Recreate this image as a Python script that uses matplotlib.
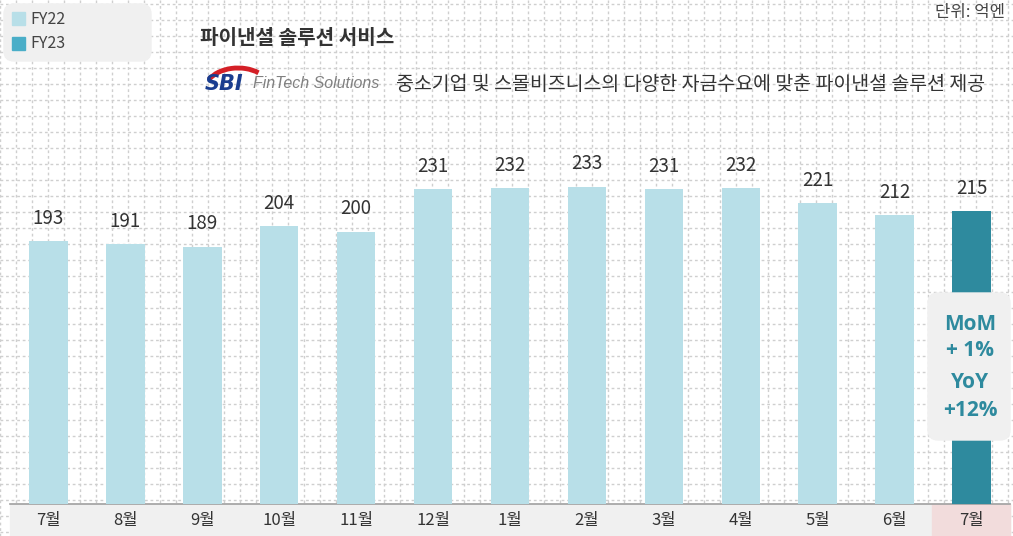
import numpy as np
import matplotlib.pyplot as plt
from matplotlib.patches import FancyBboxPatch, Rectangle, Arc

plt.rcParams['font.family'] = ['Noto Sans CJK KR', 'DejaVu Sans']

# data
months = ['7월', '8월', '9월', '10월', '11월', '12월', '1월', '2월', '3월', '4월', '5월', '6월', '7월']
values = [193, 191, 189, 204, 200, 231, 232, 233, 231, 232, 221, 212, 215]
fiscal = ['FY22'] * 12 + ['FY23']

c22 = '#b8dfe8'
c23 = '#2e8a9e'
c23_legend = '#4aaec8'
W, H = 1013, 536

fig = plt.figure(figsize=(W / 100, H / 100), dpi=100)

# dotted background grid over the whole figure
bg = fig.add_axes([0, 0, 1, 1])
bg.set_xlim(0, W)
bg.set_ylim(H, 0)
bg.axis('off')
for gx in np.arange(0, W, 16):
    bg.axvline(gx, color='#cfcfcf', lw=1, ls=(0, (2, 2)), zorder=0)
for gy in np.arange(4, H, 16):
    bg.axhline(gy, color='#cfcfcf', lw=1, ls=(0, (2, 2)), zorder=0)

# x-axis band
bg.add_patch(Rectangle((10, 504), 1000, 32, color='#f0f0f0', zorder=1))
bg.add_patch(Rectangle((932, 504), 78, 32, color='#f2dcdc', zorder=1))
bg.plot([10, 1010], [504, 504], color='#a0a0a0', lw=1.2, zorder=2)

# bar axes
ax = fig.add_axes([10 / W, (H - 504) / H, 1000 / W, 504 / H])
ax.patch.set_alpha(0)
x = np.arange(len(months))
colors = [c23 if f == 'FY23' else c22 for f in fiscal]
ax.bar(x, values, width=0.5, color=colors, zorder=3)
for xi, v in zip(x, values):
    ax.text(xi, v + 9, str(v), ha='center', va='bottom', fontsize=13.5, color='#333333')
ax.set_xlim(-0.5, len(months) - 0.5)
ax.set_ylim(0, 370)
ax.axis('off')
for xi, m in zip(x, months):
    fig.text((10 + (xi + 0.5) * 1000 / 13) / W, 1 - 521 / H, m, ha='center', va='center',
             fontsize=12, color='#333333', fontweight='medium')

# overlay for boxes and titles
top = fig.add_axes([0, 0, 1, 1])
top.patch.set_alpha(0)
top.set_xlim(0, W)
top.set_ylim(H, 0)
top.axis('off')

# legend box
top.add_patch(FancyBboxPatch((4, 4), 147, 57, boxstyle='round,pad=0,rounding_size=10',
                             color='#f0f0f0', zorder=4))
top.add_patch(Rectangle((12, 12), 13, 13, color=c22, zorder=5))
top.add_patch(Rectangle((12, 37), 13, 13, color=c23_legend, zorder=5))
top.text(30, 19, 'FY22', fontsize=11.5, color='#444444', va='center', zorder=5)
top.text(30, 44, 'FY23', fontsize=11.5, color='#444444', va='center', zorder=5)

# titles
top.text(200, 37, '파이낸셜 솔루션 서비스', fontsize=14.5, fontweight='bold', color='#333333',
         va='center', zorder=5)
top.text(1005, 12, '단위: 억엔', fontsize=12, color='#444444', ha='right', va='center', zorder=5)
top.text(985, 84, '중소기업 및 스몰비즈니스의 다양한 자금수요에 맞춘 파이낸셜 솔루션 제공',
         fontsize=14, color='#333333', ha='right', va='center', zorder=5)

# SBI logo
top.add_patch(Arc((238, 90), 66, 44, theta1=200, theta2=320, color='#d42027', lw=3.5, zorder=5))
top.text(205, 84, 'SBI', fontsize=15, fontweight='heavy', style='italic', color='#1a3d8f',
         family='DejaVu Sans', va='center', zorder=6)
top.text(253, 83, 'FinTech Solutions', fontsize=11.5, style='italic', color='#808080',
         family='Liberation Sans', va='center', zorder=6)

# MoM / YoY box
top.add_patch(FancyBboxPatch((928, 293), 82, 147, boxstyle='round,pad=0,rounding_size=10',
                             color='#f0f0f0', zorder=6))
for ty, t in zip([324, 351, 383, 410], ['MoM', '+ 1%', 'YoY', '+12%']):
    top.text(970, ty, t, fontsize=15, fontweight='bold', color=c23, ha='center', va='center',
             family='Open Sans', zorder=7)

fig.savefig('out.png', dpi=100)
